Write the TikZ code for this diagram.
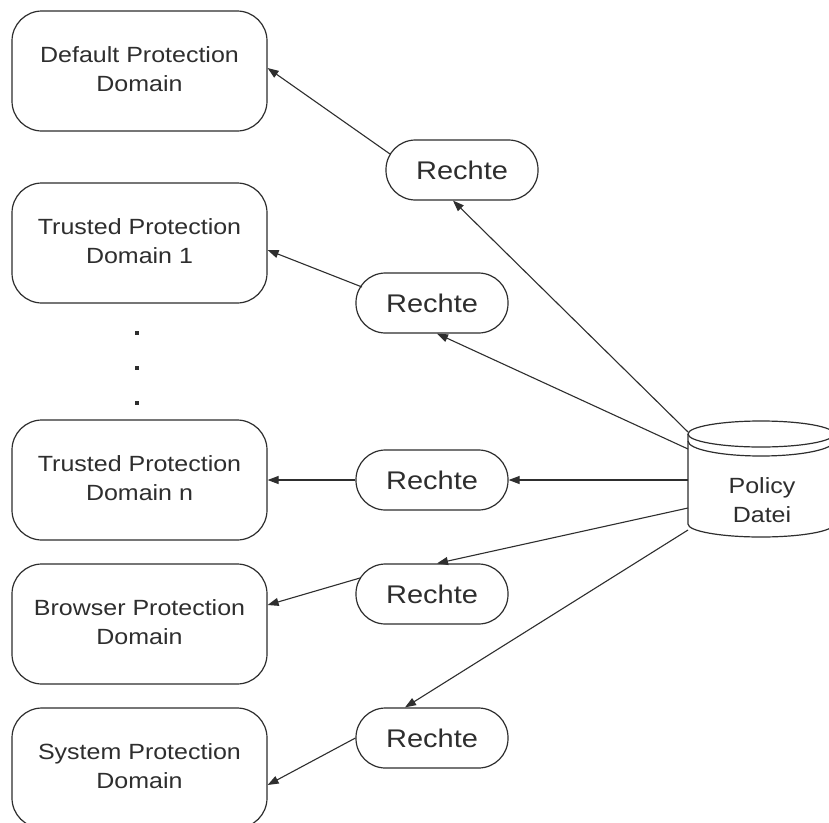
\documentclass[tikz,border=0pt]{standalone}
\usepackage{fontspec}
\setmainfont{Liberation Sans}
\usepackage{graphicx}
\usetikzlibrary{arrows.meta,calc}
\definecolor{ink}{HTML}{2E2E2E}
% text set slightly narrower in height than in width
\newcommand\squeezed[1]{\scalebox{1}[0.88]{#1}}
\newcommand\twolines[2]{\squeezed{\begin{tabular}{@{}c@{}}#1\\#2\end{tabular}}}

\begin{document}
\begin{tikzpicture}[x=1pt,y=-1pt,
  domainbox/.style={draw=ink, line width=1.2pt, rounded corners=30pt,
    minimum width=255pt, minimum height=120pt, inner sep=0pt, text=ink,
    font=\fontsize{25}{34}\selectfont},
  rights/.style={draw=ink, line width=1.2pt, rounded corners=29.5pt,
    minimum width=152pt, minimum height=60pt, inner sep=0pt, text=ink,
    font=\fontsize{29}{34}\selectfont},
  link/.style={draw=ink, line width=1.1pt, -{Triangle[length=11pt,width=8pt]}},
  dotmark/.style={fill=ink, minimum size=4pt, inner sep=0pt},
  dbline/.style={draw=ink, line width=1.2pt}]

\useasboundingbox (0,0) rectangle (829,822);
\fill[white] (0,0) rectangle (829,822);

% protection domains
\node[domainbox] (def) at (139.5,71)  {\twolines{Default Protection}{Domain}};
\node[domainbox] (t1)  at (139.5,243) {\twolines{Trusted Protection}{Domain 1}};
\node[domainbox] (tn)  at (139.5,480) {\twolines{Trusted Protection}{Domain n}};
\node[domainbox] (br)  at (139.5,624) {\twolines{Browser Protection}{Domain}};
\node[domainbox] (sys) at (139.5,768) {\twolines{System Protection}{Domain}};

% ellipsis between the trusted domains
\node[dotmark] (e1) at (137,333) {};
\node[dotmark] (e2) at (137,368) {};
\node[dotmark] (e3) at (137,403) {};

% permission sets
\node[rights] (r1) at (462,170) {\squeezed{Rechte}};
\node[rights] (r2) at (432,303) {\squeezed{Rechte}};
\node[rights] (r3) at (432,480) {\squeezed{Rechte}};
\node[rights] (r4) at (432,594) {\squeezed{Rechte}};
\node[rights] (r5) at (432,738) {\squeezed{Rechte}};

% policy file (database cylinder)
\fill[white] (688,434) -- (688,524) arc[start angle=180,end angle=360,x radius=73pt,y radius=13pt] -- (834,434) -- cycle;
\draw[dbline] (761,434) ellipse [x radius=73pt, y radius=13pt];
\draw[dbline] (688,441) arc[start angle=180,end angle=360,x radius=73pt,y radius=15pt];
\draw[dbline] (688,434) -- (688,524) arc[start angle=180,end angle=360,x radius=73pt,y radius=13pt] -- (834,434);
\node[text=ink, font=\fontsize{25}{34}\selectfont] (db) at (762,502) {\twolines{Policy}{Datei}};

\coordinate (p1) at (688,432);
\coordinate (p2) at (688,449);
\coordinate (p3) at (688,480);
\coordinate (p4) at (688,508);
\coordinate (p5) at (688,530);

% policy file to permission sets
\draw[link] (p1) -- ([xshift=-9pt]r1.south);
\draw[link] (p2) -- ([xshift=5pt]r2.south);
\draw[link] (p3) -- (r3.east);
\draw[link] (p4) -- ([xshift=5pt]r4.north);
\draw[link] (p5) -- ([xshift=-27pt]r5.north);

% permission sets to domains
\draw[link] ($(r1)+(-72,-16)$) -- ([yshift=3pt]def.east);
\draw[link] ($(r2)+(-70,-16)$) -- ([yshift=-7pt]t1.east);
\draw[link] (r3.west) -- (tn.east);
\draw[link] ($(r4)+(-72,-16)$) -- ([yshift=19pt]br.east);
\draw[link] (r5.west) -- ([yshift=-17pt]sys.east);
\end{tikzpicture}
\end{document}
